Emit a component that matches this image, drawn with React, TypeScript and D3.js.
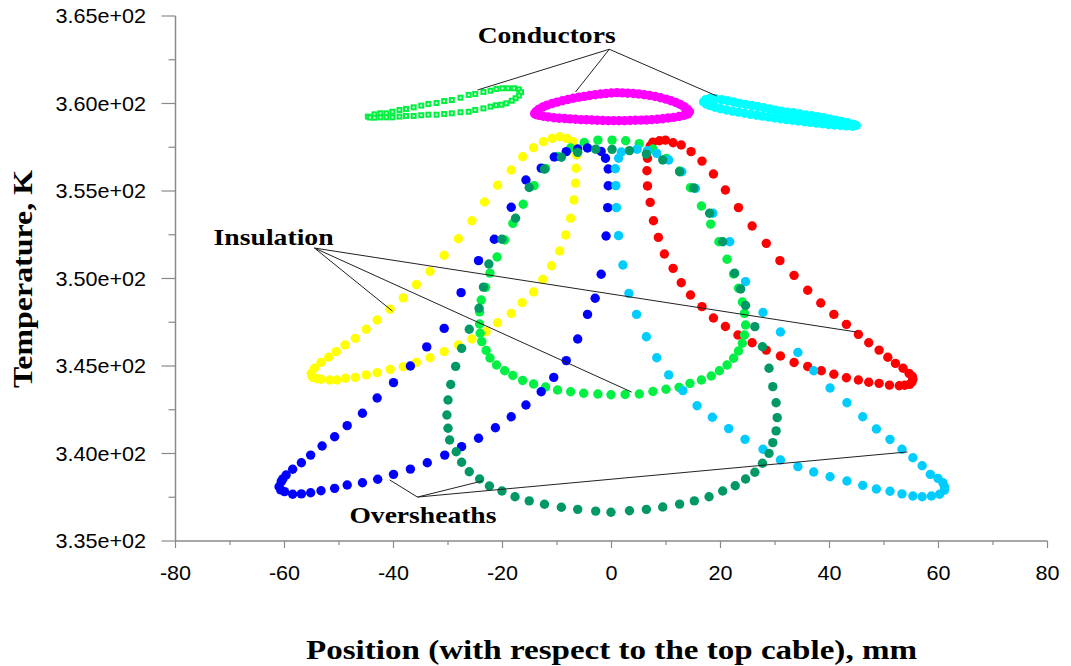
import React from "react";
import * as d3 from "d3";

type P = [number, number];

// Conductors
const condLeft: P[] = [
  [-44.7, 359.25], [-43.5, 359.38], [-42.4, 359.44], [-41.3, 359.44], [-40.2, 359.53], [-38.9, 359.63],
  [-37.7, 359.69], [-36.3, 359.78], [-34.9, 359.88], [-33.6, 359.97], [-32.1, 360.03], [-30.7, 360.14],
  [-29.3, 360.2], [-27.7, 360.33], [-26.2, 360.49], [-25.0, 360.54], [-23.5, 360.66], [-22.2, 360.73],
  [-21.1, 360.83], [-20.0, 360.87], [-19.0, 360.87], [-17.9, 360.87], [-17.0, 360.81], [-16.6, 360.64],
  [-17.0, 360.45], [-17.6, 360.3], [-18.3, 360.16], [-19.3, 360.01], [-20.2, 359.93], [-21.2, 359.9],
  [-22.2, 359.82], [-23.5, 359.72], [-25.0, 359.63], [-26.2, 359.53], [-27.7, 359.5], [-29.3, 359.44],
  [-30.7, 359.4], [-32.1, 359.36], [-33.6, 359.36], [-34.9, 359.33], [-36.3, 359.29], [-37.7, 359.29],
  [-38.9, 359.25], [-40.2, 359.21], [-41.3, 359.21], [-42.4, 359.21], [-43.5, 359.19], [-44.3, 359.2],
];

const condTop: P[] = [
  [-14.1, 359.42], [-13.8, 359.55], [-13.3, 359.68], [-12.6, 359.8], [-11.8, 359.91], [-10.9, 360.0],
  [-10.0, 360.08], [-9.0, 360.16], [-8.0, 360.23], [-7.0, 360.3], [-6.0, 360.36], [-5.0, 360.41],
  [-4.0, 360.46], [-3.0, 360.5], [-2.0, 360.54], [-1.0, 360.57], [0.0, 360.6], [1.0, 360.62],
  [2.0, 360.61], [3.0, 360.59], [4.0, 360.57], [5.0, 360.54], [6.0, 360.5], [7.0, 360.46],
  [8.0, 360.4], [9.0, 360.33], [10.0, 360.25], [10.9, 360.16], [11.8, 360.06], [12.6, 359.95],
  [13.3, 359.82], [13.9, 359.68], [14.3, 359.53],
  [14.0, 359.4], [13.3, 359.32], [12.4, 359.26], [11.4, 359.21], [10.4, 359.17], [9.4, 359.13],
  [8.4, 359.1], [7.4, 359.08], [6.4, 359.06], [5.4, 359.05], [4.4, 359.04], [3.4, 359.03],
  [2.4, 359.02], [1.4, 359.02], [0.4, 359.02], [-0.6, 359.02], [-1.6, 359.03], [-2.6, 359.04],
  [-3.6, 359.06], [-4.6, 359.07], [-5.6, 359.08], [-6.6, 359.1], [-7.6, 359.12], [-8.6, 359.14],
  [-9.6, 359.16], [-10.6, 359.19], [-11.6, 359.23], [-12.5, 359.27], [-13.3, 359.32], [-13.9, 359.37],
];

const condRight: P[] = [
  [16.9, 360.09], [17.3, 360.22], [18.1, 360.29], [19.1, 360.27], [20.2, 360.22], [21.3, 360.16],
  [22.4, 360.09], [23.5, 360.01], [24.6, 359.95], [25.7, 359.89], [26.8, 359.83], [27.9, 359.76],
  [29.0, 359.69], [30.1, 359.62], [31.2, 359.56], [32.3, 359.5], [33.4, 359.47], [34.5, 359.41],
  [35.6, 359.35], [36.7, 359.3], [37.8, 359.25], [38.9, 359.19], [40.0, 359.12], [41.1, 359.05],
  [42.2, 358.98], [43.3, 358.9], [44.3, 358.82], [44.9, 358.75],
  [44.2, 358.7], [43.1, 358.72], [42.0, 358.74], [40.9, 358.77], [39.8, 358.8], [38.7, 358.84],
  [37.6, 358.88], [36.5, 358.92], [35.4, 358.96], [34.3, 359.0], [33.2, 359.04], [32.1, 359.08],
  [31.0, 359.13], [29.9, 359.18], [28.8, 359.23], [27.7, 359.28], [26.6, 359.33], [25.5, 359.38],
  [24.4, 359.44], [23.3, 359.5], [22.2, 359.56], [21.1, 359.63], [20.0, 359.7], [19.0, 359.79],
  [18.1, 359.88], [17.4, 359.97],
];

// Insulation
const insLeft: P[] = [
  [-9.5, 358.1], [-10.9, 358.01], [-12.5, 357.82], [-14.3, 357.47], [-16.3, 356.96], [-18.4, 356.2],
  [-20.9, 355.33], [-23.3, 354.37], [-25.6, 353.3], [-28.1, 352.27], [-30.7, 351.33], [-33.3, 350.41],
  [-35.8, 349.65], [-38.2, 348.89], [-40.6, 348.24], [-43.0, 347.63], [-45.0, 347.1], [-47.0, 346.58],
  [-48.9, 346.2], [-50.5, 345.82], [-51.9, 345.5], [-53.3, 345.21], [-54.5, 344.87], [-55.1, 344.58],
  [-55.0, 344.45], [-54.8, 344.35], [-54.0, 344.27], [-53.3, 344.24], [-51.7, 344.2], [-50.4, 344.2],
  [-48.8, 344.3], [-47.0, 344.35], [-45.0, 344.49], [-43.0, 344.62], [-40.6, 344.81], [-38.2, 344.96],
  [-35.8, 345.21], [-33.3, 345.47], [-30.7, 345.82], [-28.1, 346.2], [-25.6, 346.54], [-23.0, 346.96],
  [-20.9, 347.47], [-18.4, 348.01], [-16.4, 348.62], [-14.3, 349.23], [-12.6, 349.95], [-11.0, 350.73],
  [-9.5, 351.57], [-8.4, 352.49], [-7.5, 353.44], [-6.9, 354.49], [-6.6, 355.44], [-6.5, 356.3],
  [-6.4, 357.06], [-7.1, 357.82], [-8.2, 358.01],
];

const insTop: P[] = [
  [-2.5, 357.91], [0.1, 357.91], [2.6, 357.87], [5.1, 357.71], [7.6, 357.4], [10.1, 356.86],
  [12.5, 356.14], [14.5, 355.19], [16.5, 354.14], [18.2, 353.11], [19.7, 352.1], [21.2, 351.1],
  [22.4, 350.26], [23.3, 349.44], [24.0, 348.66], [24.4, 348.01], [24.6, 347.34], [24.4, 346.77],
  [24.0, 346.3], [23.3, 345.86], [22.4, 345.44], [21.2, 345.06], [19.8, 344.73], [18.3, 344.43],
  [16.5, 344.2], [14.4, 344.01], [12.4, 343.78], [10.0, 343.67], [7.6, 343.54], [5.1, 343.4],
  [2.5, 343.37], [-0.1, 343.36], [-2.5, 343.4], [-5.1, 343.44], [-7.5, 343.53], [-9.9, 343.63],
  [-12.1, 343.8], [-14.3, 343.97], [-16.3, 344.17], [-18.1, 344.46], [-19.6, 344.73], [-21.1, 345.06],
  [-22.3, 345.46], [-23.0, 345.89], [-23.8, 346.39], [-24.1, 346.87], [-24.2, 347.4], [-24.2, 348.09],
  [-23.9, 348.77], [-23.1, 349.49], [-22.3, 350.31], [-21.0, 351.23], [-19.6, 352.2], [-18.1, 353.15],
  [-16.2, 354.24], [-14.2, 355.31], [-12.1, 356.29], [-9.9, 356.97], [-7.5, 357.46], [-5.0, 357.77],
];

const insRight: P[] = [
  [7.6, 357.79], [8.8, 357.87], [9.9, 357.91], [11.3, 357.76], [12.8, 357.63], [14.6, 357.25],
  [16.6, 356.71], [18.7, 355.97], [20.9, 355.06], [23.3, 354.05], [25.8, 353.0], [28.4, 352.01],
  [30.9, 351.02], [33.5, 350.18], [36.0, 349.33], [38.4, 348.6], [40.8, 347.95], [43.1, 347.38],
  [45.3, 346.81], [47.2, 346.33], [49.1, 345.91], [50.7, 345.5], [52.1, 345.15], [53.5, 344.87],
  [54.6, 344.58], [55.2, 344.4], [55.3, 344.24], [55.1, 344.07], [54.7, 343.95], [53.8, 343.9],
  [52.8, 343.87], [51.0, 343.91], [49.1, 344.01], [47.2, 344.07], [45.3, 344.2], [43.1, 344.33],
  [40.8, 344.53], [38.5, 344.73], [36.0, 344.97], [33.5, 345.2], [31.0, 345.57], [28.4, 345.91],
  [25.8, 346.33], [23.2, 346.77], [20.9, 347.26], [18.7, 347.74], [16.6, 348.39], [14.5, 349.06],
  [12.8, 349.76], [11.3, 350.58], [9.7, 351.4], [8.6, 352.35], [7.7, 353.3], [7.1, 354.35],
  [6.6, 355.29], [6.5, 356.16], [6.6, 356.87], [7.1, 357.57],
];

// Oversheaths
const shLeft: P[] = [
  [-1.9, 357.26], [-4.4, 357.46], [-6.2, 357.4], [-8.3, 357.25], [-10.5, 356.94], [-12.9, 356.31],
  [-15.7, 355.63], [-18.4, 354.07], [-21.5, 352.24], [-24.4, 351.02], [-27.6, 349.19], [-30.7, 347.15],
  [-33.9, 346.09], [-36.9, 345.0], [-40.0, 344.05], [-43.0, 343.17], [-45.7, 342.3], [-48.5, 341.59],
  [-50.8, 340.96], [-53.1, 340.43], [-55.2, 339.91], [-56.9, 339.47], [-58.5, 339.1], [-59.7, 338.77],
  [-60.3, 338.55], [-60.6, 338.39], [-61.0, 338.1], [-60.7, 337.92], [-60.0, 337.82], [-58.5, 337.67],
  [-56.9, 337.69], [-55.2, 337.76], [-53.3, 337.87], [-50.8, 338.01], [-48.5, 338.2], [-45.7, 338.33],
  [-42.9, 338.53], [-40.0, 338.81], [-36.9, 339.11], [-33.8, 339.47], [-30.6, 339.91], [-27.5, 340.39],
  [-24.4, 340.87], [-21.3, 341.47], [-18.4, 342.1], [-15.7, 342.77], [-12.9, 343.53], [-10.6, 344.35],
  [-8.3, 345.31], [-6.2, 346.54], [-4.4, 347.95], [-3.0, 348.87], [-1.9, 350.24], [-1.0, 352.43],
  [-0.7, 354.05], [-0.6, 355.3], [-0.6, 356.26], [-1.1, 356.87],
];

const shTop: P[] = [
  [0.1, 357.38], [3.3, 357.31], [6.4, 357.11], [9.4, 356.77], [12.5, 356.1], [15.1, 355.17],
  [18.0, 353.73], [20.4, 352.1], [22.6, 350.3], [23.7, 349.4], [24.6, 348.46], [26.3, 347.25],
  [27.7, 346.1], [28.9, 344.87], [29.6, 343.82], [30.2, 342.9], [30.4, 342.05], [30.2, 341.29],
  [29.6, 340.62], [28.9, 340.01], [27.7, 339.44], [26.3, 338.93], [24.6, 338.54], [22.7, 338.16],
  [20.4, 337.86], [17.9, 337.53], [15.2, 337.29], [12.5, 337.11], [9.4, 336.94], [6.4, 336.81],
  [3.3, 336.73], [-0.1, 336.64], [-2.9, 336.71], [-6.2, 336.81], [-9.2, 336.93], [-12.3, 337.1],
  [-15.1, 337.29], [-17.7, 337.53], [-20.1, 337.86], [-22.4, 338.14], [-24.2, 338.54], [-26.1, 338.96],
  [-27.5, 339.5], [-28.5, 340.1], [-29.7, 340.77], [-30.0, 341.44], [-30.2, 342.2], [-30.0, 343.06],
  [-29.5, 343.94], [-28.6, 344.98], [-27.5, 346.01], [-26.1, 347.1], [-24.3, 348.3], [-23.5, 349.51],
  [-22.5, 350.83], [-20.1, 352.24], [-17.6, 353.44], [-15.1, 355.2], [-12.3, 356.25], [-9.2, 356.93],
  [-6.2, 357.21], [-2.9, 357.39],
];

const shRight: P[] = [
  [1.8, 357.23], [4.7, 357.39], [6.6, 357.31], [8.3, 357.15], [10.5, 356.77], [12.9, 356.1],
  [15.4, 355.14], [18.6, 353.73], [21.7, 352.1], [24.6, 349.82], [27.8, 348.06], [31.0, 346.94],
  [34.2, 345.77], [37.1, 344.73], [40.1, 343.74], [43.2, 342.9], [46.1, 342.1], [48.6, 341.4],
  [51.1, 340.81], [53.3, 340.24], [55.3, 339.76], [57.0, 339.3], [58.5, 338.81], [59.9, 338.58],
  [60.8, 338.33], [61.1, 338.1], [61.1, 337.91], [60.2, 337.67], [58.7, 337.57], [57.0, 337.53],
  [55.3, 337.57], [53.3, 337.69], [51.1, 337.84], [48.6, 337.97], [46.1, 338.18], [43.2, 338.43],
  [40.1, 338.67], [37.1, 338.94], [34.2, 339.25], [31.0, 339.63], [27.8, 340.24], [24.5, 340.81],
  [21.5, 341.42], [18.5, 342.07], [15.7, 342.73], [13.1, 343.59], [10.5, 344.49], [8.3, 345.47],
  [6.4, 346.67], [4.6, 347.95], [3.2, 349.15], [2.1, 350.77], [1.3, 352.45], [0.9, 354.05],
  [0.8, 355.31], [0.7, 356.27], [1.3, 356.87],
];

const xTicks = [-80, -60, -40, -20, 0, 20, 40, 60, 80];
const xMinorTicks = [-70, -50, -30, -10, 10, 30, 50, 70];
const yTicks = [335, 340, 345, 350, 355, 360, 365];
const yTickLabels = ["3.35e+02", "3.40e+02", "3.45e+02", "3.50e+02", "3.55e+02", "3.60e+02", "3.65e+02"];
const yMinorTicks = [337.5, 342.5, 347.5, 352.5, 357.5, 362.5];

const xTitle = "Position (with respect to the top cable), mm";
const yTitle = "Temperature, K";

// Annotation labels and leader-line endpoints (in data units: mm, K)
const annotations = [
  { label: "Conductors", at: [-11.9, 363.46] as P, width: 138, apex: [-0.4, 363.1] as P,
    targets: [[-24.6, 360.77], [-6.6, 360.66], [19.3, 360.43]] as P[] },
  { label: "Insulation", at: [-62.0, 351.91] as P, width: 120, apex: [-54.5, 351.74] as P,
    targets: [[-40.2, 348.14], [3.7, 343.51], [45.0, 346.94]] as P[] },
  { label: "Oversheaths", at: [-34.6, 336.03] as P, width: 147, apex: [-35.6, 337.51] as P,
    targets: [[-40.7, 338.49], [-23.7, 338.43], [54.3, 340.09]] as P[] },
];

const dotSeries = [
  { data: insLeft, color: "#FFFF00" },
  { data: insRight, color: "#FF0000" },
  { data: insTop, color: "#00F044" },
  { data: shLeft, color: "#0000FF" },
  { data: shRight, color: "#00CCFF" },
  { data: shTop, color: "#009966" },
];

export default function App() {
  const W = 1071, H = 666;
  const x = d3.scaleLinear().domain([-80, 80]).range([175.5, 1047.5]);
  const y = d3.scaleLinear().domain([335, 365]).range([541, 16]);
  const axisColor = "#8a8a8a";
  const sans = "'Liberation Sans', Arial, sans-serif";
  const serif = "'Liberation Serif', 'Times New Roman', serif";
  const r = 4.7;

  return (
    <svg width={W} height={H} style={{ position: "absolute", left: 0, top: 0, background: "#fff" }}>
      {/* axes */}
      <line x1={x(-80)} x2={x(-80)} y1={y(365)} y2={y(335)} stroke={axisColor} strokeWidth={1.5} />
      <line x1={x(-80)} x2={x(80)} y1={y(335)} y2={y(335)} stroke={axisColor} strokeWidth={1.5} />
      {yTicks.map((t, i) => (
        <g key={"yt" + t}>
          <line x1={x(-80) - 14} x2={x(-80)} y1={y(t)} y2={y(t)} stroke={axisColor} strokeWidth={1.2} />
          <text transform={`translate(146,${y(t) + 7}) scale(1.08,1)`} textAnchor="end" fontFamily={sans} fontSize={20} fill="#000">
            {yTickLabels[i]}
          </text>
        </g>
      ))}
      {yMinorTicks.map((t) => (
        <line key={"ym" + t} x1={x(-80) - 7} x2={x(-80)} y1={y(t)} y2={y(t)} stroke={axisColor} strokeWidth={1.2} />
      ))}
      {xTicks.map((t) => (
        <g key={"xt" + t}>
          <line x1={x(t)} x2={x(t)} y1={y(335)} y2={y(335) + 7} stroke={axisColor} strokeWidth={1.2} />
          <text transform={`translate(${x(t)},580) scale(1.08,1)`} textAnchor="middle" fontFamily={sans} fontSize={20} fill="#000">
            {t}
          </text>
        </g>
      ))}
      {xMinorTicks.map((t) => (
        <line key={"xm" + t} x1={x(t)} x2={x(t)} y1={y(335)} y2={y(335) + 4} stroke={axisColor} strokeWidth={1.2} />
      ))}

      {/* conductors */}
      {condLeft.map((d, i) => (
        <g key={"cl" + i}>
          <rect x={x(d[0]) - 3} y={y(d[1]) - 3} width={6} height={6} fill="#00F040" />
          <rect x={x(d[0]) - 1} y={y(d[1]) - 1} width={2} height={2} fill="#d8ffe0" />
        </g>
      ))}
      {condTop.map((d, i) => (
        <circle key={"ct" + i} cx={x(d[0])} cy={y(d[1])} r={r} fill="#FF00FF" />
      ))}
      {condRight.map((d, i) => (
        <circle key={"cr" + i} cx={x(d[0])} cy={y(d[1])} r={r} fill="#00FFFF" />
      ))}

      {/* insulation and oversheaths */}
      {dotSeries.map((s, si) =>
        s.data.map((d, i) => (
          <circle key={si + "-" + i} cx={x(d[0])} cy={y(d[1])} r={r} fill={s.color} />
        ))
      )}

      {/* annotations */}
      {annotations.map((a) => (
        <g key={a.label}>
          {a.targets.map((t, i) => (
            <line key={i} x1={x(a.apex[0])} y1={y(a.apex[1])} x2={x(t[0])} y2={y(t[1])} stroke="#222" strokeWidth={1} />
          ))}
          <text x={x(a.at[0])} y={y(a.at[1])} textAnchor="middle" fontFamily={serif} fontWeight="bold"
            fontSize={24} textLength={a.width} lengthAdjust="spacingAndGlyphs" fill="#000">
            {a.label}
          </text>
        </g>
      ))}

      {/* titles */}
      <text x={611.5} y={659} textAnchor="middle" fontFamily={serif} fontWeight="bold" fontSize={27}
        textLength={611} lengthAdjust="spacingAndGlyphs" fill="#000">
        {xTitle}
      </text>
      <text transform={`translate(32,279) rotate(-90)`} textAnchor="middle" fontFamily={serif} fontWeight="bold"
        fontSize={27} textLength={218} lengthAdjust="spacingAndGlyphs" fill="#000">
        {yTitle}
      </text>
    </svg>
  );
}
